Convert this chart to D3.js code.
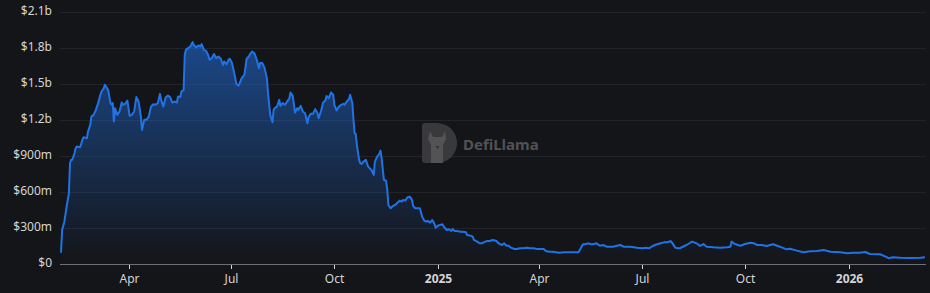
<!DOCTYPE html>
<html>
<head>
<meta charset="utf-8">
<script src="https://cdn.jsdelivr.net/npm/d3@7"></script>
<style>
  html, body { margin: 0; padding: 0; background: #141518; }
  svg { display: block; }
</style>
</head>
<body>
<svg id="chart"></svg>
<script>
const WIDTH = 930;
const HEIGHT = 293;

// TVL in $m
const dates = [
  "2024-02-01","2024-02-02","2024-02-04","2024-02-06","2024-02-08","2024-02-09","2024-02-10","2024-02-11","2024-02-13","2024-02-14","2024-02-15","2024-02-18","2024-02-20","2024-02-21","2024-02-24","2024-02-25","2024-02-27","2024-02-28",
  "2024-03-01","2024-03-03","2024-03-05","2024-03-07","2024-03-08","2024-03-10","2024-03-11","2024-03-13","2024-03-14","2024-03-16","2024-03-17","2024-03-18","2024-03-19","2024-03-20","2024-03-22","2024-03-24","2024-03-26","2024-03-27","2024-03-29","2024-03-31",
  "2024-04-02","2024-04-04","2024-04-06","2024-04-08","2024-04-10","2024-04-12","2024-04-13","2024-04-15","2024-04-17","2024-04-19","2024-04-21","2024-04-23","2024-04-25","2024-04-27","2024-04-29","2024-04-30",
  "2024-05-02","2024-05-04","2024-05-06","2024-05-08","2024-05-10","2024-05-12","2024-05-14","2024-05-15","2024-05-17","2024-05-18","2024-05-20","2024-05-21","2024-05-22","2024-05-24","2024-05-26","2024-05-28","2024-05-29","2024-05-31",
  "2024-06-02","2024-06-04","2024-06-05","2024-06-07","2024-06-09","2024-06-11","2024-06-12","2024-06-14","2024-06-16","2024-06-18","2024-06-20","2024-06-22","2024-06-24","2024-06-25","2024-06-27","2024-06-29","2024-06-30",
  "2024-07-02","2024-07-04","2024-07-06","2024-07-08","2024-07-10","2024-07-11","2024-07-13","2024-07-15","2024-07-17","2024-07-18","2024-07-20","2024-07-22","2024-07-24","2024-07-26","2024-07-27","2024-07-29","2024-07-31",
  "2024-08-02","2024-08-03","2024-08-05","2024-08-07","2024-08-08","2024-08-09","2024-08-11","2024-08-13","2024-08-14","2024-08-16","2024-08-18","2024-08-20","2024-08-22","2024-08-23","2024-08-25","2024-08-27","2024-08-29","2024-08-30",
  "2024-09-01","2024-09-03","2024-09-05","2024-09-07","2024-09-08","2024-09-10","2024-09-12","2024-09-14","2024-09-16","2024-09-17","2024-09-19","2024-09-21","2024-09-23","2024-09-24","2024-09-26","2024-09-28","2024-09-30",
  "2024-10-01","2024-10-03","2024-10-05","2024-10-07","2024-10-09","2024-10-10","2024-10-12","2024-10-14","2024-10-15","2024-10-17","2024-10-18","2024-10-19","2024-10-20","2024-10-21","2024-10-23","2024-10-24","2024-10-25","2024-10-27","2024-10-29","2024-10-31",
  "2024-11-03","2024-11-05","2024-11-06","2024-11-08","2024-11-10","2024-11-11","2024-11-12","2024-11-14","2024-11-16","2024-11-17","2024-11-18","2024-11-20","2024-11-22","2024-11-24","2024-11-26","2024-11-28","2024-11-30",
  "2024-12-01","2024-12-03","2024-12-05","2024-12-07","2024-12-09","2024-12-10","2024-12-12","2024-12-14","2024-12-16","2024-12-18","2024-12-20","2024-12-22","2024-12-23","2024-12-25","2024-12-27","2024-12-29","2024-12-30",
  "2025-01-01","2025-01-03","2025-01-05","2025-01-07","2025-01-09","2025-01-11","2025-01-13","2025-01-14","2025-01-16","2025-01-18","2025-01-21","2025-01-23","2025-01-26","2025-01-27","2025-01-30",
  "2025-02-01","2025-02-02","2025-02-05","2025-02-07","2025-02-09","2025-02-12","2025-02-14","2025-02-16","2025-02-19","2025-02-22","2025-02-24","2025-02-27",
  "2025-03-01","2025-03-03","2025-03-05","2025-03-07","2025-03-10","2025-03-12","2025-03-15","2025-03-18","2025-03-21","2025-03-24","2025-03-27","2025-03-30",
  "2025-04-02","2025-04-05","2025-04-07","2025-04-10","2025-04-13","2025-04-16","2025-04-19","2025-04-23","2025-04-29",
  "2025-05-06","2025-05-08","2025-05-10","2025-05-12","2025-05-15","2025-05-17","2025-05-19","2025-05-22","2025-05-25","2025-05-28","2025-05-31",
  "2025-06-03","2025-06-06","2025-06-09","2025-06-12","2025-06-15","2025-06-21","2025-06-27",
  "2025-07-02","2025-07-05","2025-07-08","2025-07-10","2025-07-13","2025-07-18","2025-07-21","2025-07-24","2025-07-27","2025-07-28","2025-07-31",
  "2025-08-02","2025-08-04","2025-08-10","2025-08-15","2025-08-19","2025-08-22","2025-08-25","2025-08-28",
  "2025-09-03","2025-09-09","2025-09-15","2025-09-18","2025-09-19","2025-09-22","2025-09-27",
  "2025-10-01","2025-10-06","2025-10-09","2025-10-12","2025-10-16","2025-10-20","2025-10-26",
  "2025-11-01","2025-11-07","2025-11-10","2025-11-16","2025-11-22","2025-11-28",
  "2025-12-04","2025-12-10","2025-12-16","2025-12-25","2025-12-31",
  "2026-01-05","2026-01-11","2026-01-16","2026-01-20","2026-01-29",
  "2026-02-03","2026-02-06","2026-02-09","2026-02-16","2026-02-25",
  "2026-03-06","2026-03-10"
];
const tvl = [
  94,283,352,477,588,838,866,866,921,963,977,971,1032,1055,1046,1101,1157,1226,
  1240,1282,1338,1407,1434,1462,1490,1462,1443,1338,1324,1338,1185,1296,1240,1268,1343,1324,1332,1359,
  1232,1240,1268,1388,1351,1226,1115,1199,1199,1226,1309,1329,1324,1338,1415,1365,
  1309,1384,1401,1388,1343,1351,1343,1393,1388,1434,1448,1740,1781,1795,1809,1845,1823,1801,
  1817,1809,1829,1781,1773,1734,1698,1712,1746,1712,1726,1707,1656,1684,1662,1698,1707,
  1671,1587,1496,1484,1532,1551,1573,1707,1726,1746,1767,1753,1698,1629,1671,1671,1629,
  1546,1421,1240,1179,1282,1296,1309,1365,1315,1338,1324,1351,1379,1426,1398,1259,1296,1282,
  1315,1268,1254,1171,1221,1249,1249,1288,1254,1213,1268,1343,1359,1398,1379,1426,1407,
  1324,1276,1309,1324,1332,1324,1351,1371,1407,1338,1199,1088,1082,990,866,838,832,852,866,810,
  782,741,852,893,916,943,880,699,693,616,491,464,483,491,510,527,519,
  533,527,555,560,533,483,464,464,464,394,360,352,360,344,366,333,302,
  318,325,330,302,283,289,275,291,275,275,269,269,264,241,236,
  227,200,186,172,172,186,191,191,200,191,172,158,
  172,152,152,136,125,125,131,131,136,131,131,125,
  125,125,108,102,102,97,94,97,97,
  97,131,164,164,172,164,164,172,152,158,144,
  144,144,152,158,144,144,136,
  131,136,131,144,158,172,180,180,191,180,136,
  131,131,158,186,172,150,166,144,
  139,136,139,144,186,166,152,
  166,177,172,158,158,150,164,
  144,122,127,111,97,106,
  108,117,102,97,89,
  94,94,100,83,81,
  61,47,56,52,50,
  52,56
];

const yTicks = [0, 300, 600, 900, 1200, 1500, 1800, 2100];
const xTickDates = ["2024-04-01","2024-07-01","2024-10-01","2025-01-01","2025-04-01","2025-07-01","2025-10-01","2026-01-01"];
const xTickLabels = ["Apr","Jul","Oct","2025","Apr","Jul","Oct","2026"];

const FONT = "'Noto Sans', 'Open Sans', sans-serif";
const parse = d3.utcParse("%Y-%m-%d");

const data = dates.map((d, i) => ({ date: parse(d), value: tvl[i] }));

const svg = d3.select("#chart")
  .attr("width", WIDTH)
  .attr("height", HEIGHT);

svg.append("rect").attr("width", WIDTH).attr("height", HEIGHT).attr("fill", "#141518");

const x = d3.scaleUtc()
  .domain([parse("2024-02-01"), parse("2026-03-10")])
  .range([61, 925]);
const y = d3.scaleLinear()
  .domain([0, 2100])
  .range([264, 11.5]);

function fmt(v) {
  if (v === 0) return "$0";
  if (v < 1000) return "$" + v + "m";
  return "$" + (v / 1000).toFixed(1) + "b";
}

// grid
svg.append("g")
  .selectAll("line")
  .data(yTicks.filter(t => t > 0))
  .join("line")
  .attr("x1", 60).attr("x2", 926)
  .attr("y1", d => Math.round(y(d)) + 0.5)
  .attr("y2", d => Math.round(y(d)) + 0.5)
  .attr("stroke", "#222428")
  .attr("stroke-width", 1);

// y labels
svg.append("g")
  .selectAll("text")
  .data(yTicks)
  .join("text")
  .attr("x", 52)
  .attr("y", d => y(d) - 1)
  .attr("dy", "0.35em")
  .attr("text-anchor", "end")
  .attr("fill", "#d4d4d6")
  .style("font-family", FONT)
  .style("font-size", "12px")
  .text(fmt);

// watermark
const wm = svg.append("g").attr("opacity", 0.9);
wm.append("path")
  .attr("d", "M425,123 H437 A20,20 0 0 1 437,163 H425 Q422,163 422,160 V126 Q422,123 425,123 Z")
  .attr("fill", "#3e3e40");
wm.append("path")
  .attr("d", "M430,131 L433,137 L442,137 L445,131 L446,139 L443,145 L443,163 L431,163 L431,145 L428,139 Z")
  .attr("fill", "#5a5a5c");
wm.append("path")
  .attr("d", "M436,146 L439,146 L437.5,149 Z")
  .attr("fill", "#2e2e30");
wm.append("text")
  .attr("x", 463)
  .attr("y", 144.5)
  .attr("dy", "0.35em")
  .attr("fill", "#59595b")
  .style("font-family", FONT)
  .style("font-size", "15px")
  .style("font-weight", "bold")
  .text("DefiLlama");

// area + line
const defs = svg.append("defs");
const grad = defs.append("linearGradient")
  .attr("id", "areaFill")
  .attr("gradientUnits", "userSpaceOnUse")
  .attr("x1", 0).attr("x2", 0)
  .attr("y1", y(d3.max(tvl))).attr("y2", y(0));
grad.append("stop").attr("offset", "0%").attr("stop-color", "#2172e5").attr("stop-opacity", 0.55);
grad.append("stop").attr("offset", "100%").attr("stop-color", "#2172e5").attr("stop-opacity", 0.0);

const area = d3.area()
  .x(d => x(d.date))
  .y0(y(0))
  .y1(d => y(d.value));
const line = d3.line()
  .x(d => x(d.date))
  .y(d => y(d.value));

svg.append("path")
  .datum(data)
  .attr("d", area)
  .attr("fill", "url(#areaFill)");

svg.append("path")
  .datum(data)
  .attr("d", line)
  .attr("fill", "none")
  .attr("stroke", "#2172e5")
  .attr("stroke-width", 2)
  .attr("stroke-linejoin", "round");

// x axis
svg.append("line")
  .attr("x1", 60).attr("x2", 926)
  .attr("y1", 264.5).attr("y2", 264.5)
  .attr("stroke", "#6e7079")
  .attr("stroke-width", 1);

const xt = svg.append("g")
  .selectAll("g")
  .data(xTickDates.map((d, i) => ({ date: parse(d), label: xTickLabels[i] })))
  .join("g")
  .attr("transform", d => `translate(${Math.round(x(d.date)) + 0.5},0)`);
xt.append("line")
  .attr("y1", 265).attr("y2", 269)
  .attr("stroke", "#d4d4d6");
xt.append("text")
  .attr("y", 282.5)
  .attr("text-anchor", "middle")
  .attr("fill", "#d4d4d6")
  .style("font-family", FONT)
  .style("font-size", "12px")
  .style("font-weight", d => /^\d+$/.test(d.label) ? "bold" : "normal")
  .text(d => d.label);
</script>
</body>
</html>
